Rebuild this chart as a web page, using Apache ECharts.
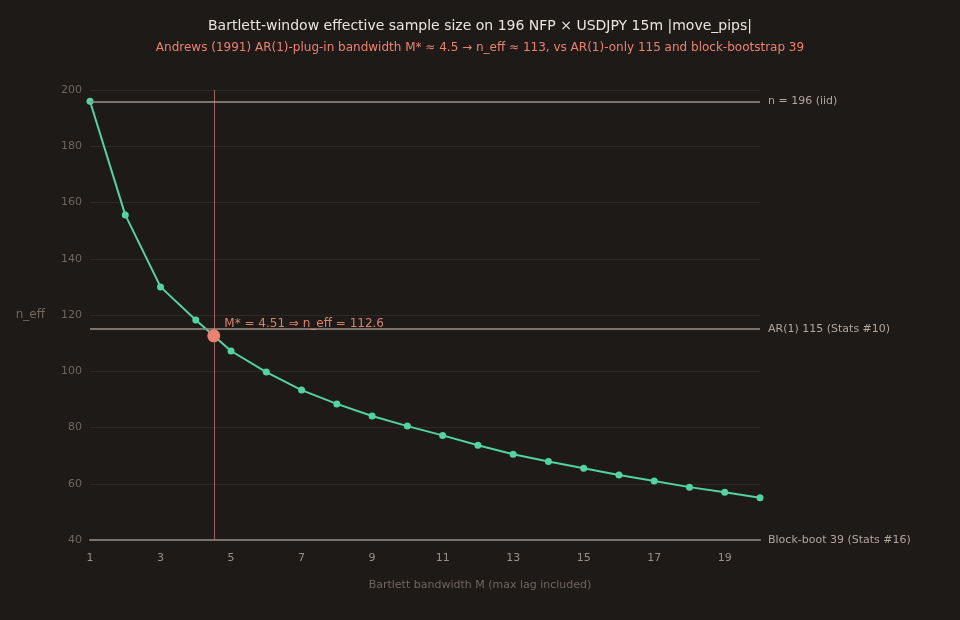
<!DOCTYPE html>
<html>
<head>
<meta charset="utf-8">
<title>Bartlett-window effective sample size</title>
<script src="https://cdn.jsdelivr.net/npm/echarts@6/dist/echarts.min.js"></script>
<style>
  html, body { margin: 0; padding: 0; background: #1e1a17; }
  #main { width: 960px; height: 620px; }
</style>
</head>
<body>
<div id="main"></div>
<script>
'use strict';

// Bartlett bandwidth M (max lag included)
let bandwidths = [1, 2, 3, 4, 5, 6, 7, 8, 9, 10, 11, 12, 13, 14, 15, 16, 17, 18, 19, 20];
// effective sample size for each M
let nEff = [196.0, 155.6, 130.0, 118.2, 107.2, 99.7, 93.3, 88.4, 84.1, 80.5,
            77.2, 73.7, 70.5, 67.9, 65.5, 63.1, 61.0, 58.8, 57.0, 55.0];

// Andrews plug-in optimum
let optM = 4.51;
let optNeff = 112.6;

// reference levels
let refLevels = [196, 115, 39];
let refLabels = ['n = 196 (iid)', 'AR(1) 115 (Stats #10)', 'Block-boot 39 (Stats #16)'];

let yMin = 40, yMax = 200;

let green = '#52d3a2';
let coral = '#ec8170';
let font = 'DejaVu Sans';

let myChart = echarts.init(document.getElementById('main'));

// levels below the axis floor sit on the floor, like in the original plot
let refLines = refLevels.map(function(v, i){
    return {
        yAxis: Math.max(v, yMin),
        label: { formatter: refLabels[i] },
        lineStyle: { color: i === 2 ? '#7c726a' : '#9a918a', width: i === 2 ? 2 : 1.5, type: 'solid' }
    };
});

let option = {
    backgroundColor: '#1e1a17',
    animation: false,
    textStyle: { fontFamily: font },
    title: [
        {
            text: 'Bartlett-window effective sample size on 196 NFP × USDJPY 15m |move_pips|',
            subtext: 'Andrews (1991) AR(1)-plug-in bandwidth M* ≈ 4.5 → n_eff ≈ 113, vs AR(1)-only 115 and block-bootstrap 39',
            left: 'center',
            top: 14,
            itemGap: 9,
            textStyle: { color: '#ebe5df', fontSize: 14, fontWeight: 'normal', fontFamily: font },
            subtextStyle: { color: coral, fontSize: 12, fontFamily: font }
        },
        {
            text: 'Bartlett bandwidth M (max lag included)',
            left: 'center',
            top: 575,
            textStyle: { color: '#6f6660', fontSize: 11, fontWeight: 'normal', fontFamily: font }
        }
    ],
    grid: { left: 90, right: 200, top: 90, bottom: 80 },
    xAxis: {
        type: 'value',
        min: 1,
        max: 20,
        interval: 1,
        axisLine: { show: true, lineStyle: { color: '#7c726a', width: 2 } },
        axisTick: { show: false },
        splitLine: { show: false },
        axisLabel: {
            color: '#9a908a',
            fontSize: 11,
            margin: 13,
            formatter: function(v){ return v % 2 === 1 ? String(v) : ''; }
        }
    },
    yAxis: {
        type: 'value',
        min: yMin,
        max: yMax,
        interval: 20,
        name: 'n_eff',
        nameLocation: 'middle',
        nameRotate: 0,
        nameGap: 45,
        nameTextStyle: { color: '#6f6660', fontSize: 12 },
        axisLine: { show: false },
        axisTick: { show: false },
        splitLine: { lineStyle: { color: '#2e2926', width: 1 } },
        axisLabel: { color: '#6f6660', fontSize: 11, margin: 8 }
    },
    series: [
        {
            name: 'n_eff',
            type: 'line',
            clip: false,
            data: bandwidths.map(function(m, i){ return [m, nEff[i]]; }),
            symbol: 'circle',
            symbolSize: 7,
            lineStyle: { color: green, width: 2 },
            itemStyle: { color: green },
            z: 3,
            markLine: {
                silent: true,
                symbol: 'none',
                label: {
                    show: true,
                    position: 'end',
                    distance: 8,
                    color: '#b0a69e',
                    fontSize: 11,
                    fontFamily: font
                },
                data: refLines.concat([
                    {
                        xAxis: optM,
                        label: { show: false },
                        lineStyle: { color: 'rgba(236,150,135,0.6)', width: 1, type: 'solid' }
                    }
                ])
            }
        },
        {
            name: 'M*',
            type: 'scatter',
            data: [[optM, optNeff]],
            symbolSize: 13,
            itemStyle: { color: coral, opacity: 1 },
            z: 10,
            label: {
                show: true,
                position: 'right',
                distance: 4,
                offset: [0, -12],
                formatter: 'M* = 4.51 ⇒ n_eff = 112.6',
                color: '#dc806e',
                fontSize: 12,
                fontFamily: font
            }
        }
    ]
};

myChart.setOption(option);
</script>
</body>
</html>
